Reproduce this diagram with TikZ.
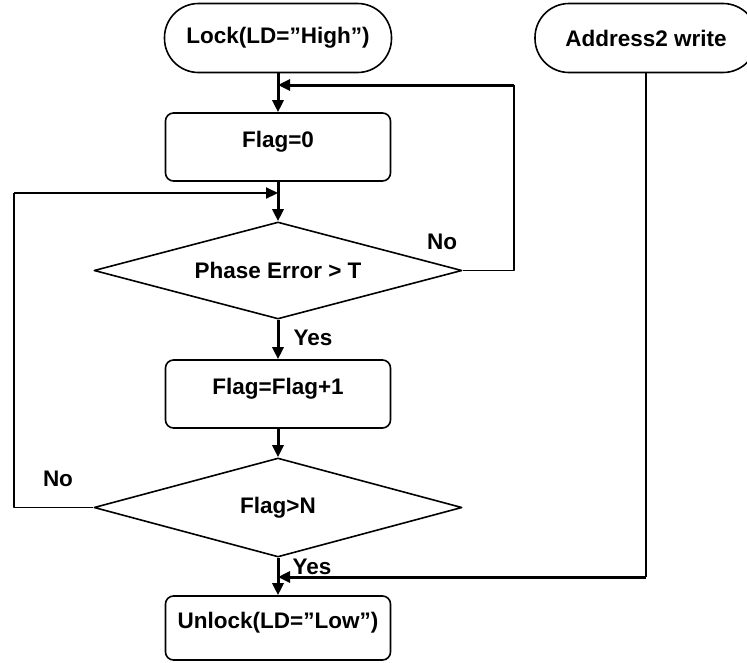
\documentclass[tikz,border=0pt]{standalone}
\usepackage{fontspec}
\setmainfont{Liberation Sans}
\usetikzlibrary{shapes.geometric,arrows.meta}
\begin{document}
\begin{tikzpicture}[x=1pt,y=-1pt,line join=round,>={Triangle[length=12pt,width=11pt]},
		font=\fontsize{22.5}{26}\selectfont\bfseries,
		term/.style={draw,line width=1.6pt,rounded corners=34pt,minimum width=227pt,minimum height=69pt,inner sep=0pt},
		proc/.style={draw,line width=1.6pt,rounded corners=8pt,minimum width=225pt,minimum height=68pt,inner sep=0pt,text height=16pt,text depth=16pt},
		dec/.style={draw,diamond,line width=1.6pt,inner sep=0pt,aspect=3.7,minimum width=368pt},
		flow/.style={->,line width=3pt},
		loopin/.style={->,line width=2.2pt},
		back/.style={line width=1.7pt}]
	\useasboundingbox (0,0) rectangle (747,662);
	\def\xc{278}
	\node[term] (lock) at (\xc,38) {Lock(LD=”High”)};
	\node[term,minimum width=222pt] (addr) at (646,38) {Address2 write};
	\node[proc] (flag0) at (\xc,147) {Flag=0};
	\node[dec,minimum height=97pt] (phase) at (\xc,270.5) {Phase Error > T};
	\node[proc] (flag1) at (\xc,394) {Flag=Flag+1};
	\node[dec,minimum height=99pt] (flagn) at (\xc,507.5) {Flag>N};
	\node[proc,minimum height=64pt] (unlock) at (\xc,628) {Unlock(LD=”Low”)};
	\coordinate (jtop) at (\xc,85);
	\coordinate (jmid) at (\xc,193);
	\coordinate (jbot) at (\xc,577);
	\coordinate (rt) at (514,85);
	\coordinate (lf) at (14,193);
	\coordinate (ad) at (646,577);
	\draw[flow] (lock.south) -- (flag0.north);
	\draw[flow] (flag0.south) -- (phase.north);
	\draw[flow] (phase.south) -- (flag1.north);
	\draw[flow] (flag1.south) -- (flagn.north);
	\draw[flow] (flagn.south) -- (unlock.north);
	\draw[back] (phase.east) -| (rt);
	\draw[flow] (rt) -- (jtop);
	\draw[back] (flagn.west) -| (lf);
	\draw[loopin] (lf) -- (jmid);
	\draw[back] (addr.south) -- (ad);
	\draw[flow] (ad) -- (jbot);
	\node (no1) at (442,242) {No};
	\node (yes1) at (313,338) {Yes};
	\node (no2) at (58,479) {No};
	\node (yes2) at (312,567) {Yes};
\end{tikzpicture}
\end{document}
